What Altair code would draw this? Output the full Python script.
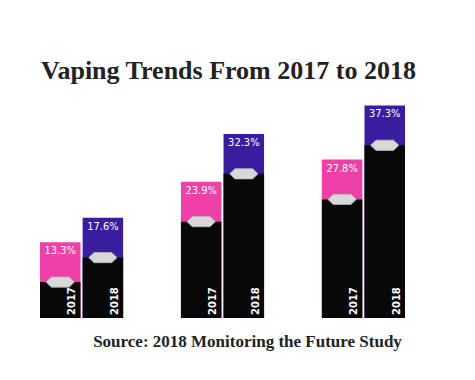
import altair as alt
import pandas as pd

grades = ["8th grade", "10th grade", "12th grade"]
years = ["2017", "2018"]
values_2017 = [13.3, 23.9, 27.8]
values_2018 = [17.6, 32.3, 37.3]

rows = []
for i, g in enumerate(grades):
    rows.append({"grade": g, "year": "2017", "value": values_2017[i]})
    rows.append({"grade": g, "year": "2018", "value": values_2018[i]})
df = pd.DataFrame(rows)

CAP = 7  # height of the coloured cap, in percentage points

x_enc = alt.X("grade:N", sort=grades,
              scale=alt.Scale(paddingInner=0.41, paddingOuter=0),
              axis=alt.Axis(labels=False, ticks=False, domain=False,
                            title="Source: 2018 Monitoring the Future Study",
                            titleFont="Liberation Serif", titleFontSize=17,
                            titleFontWeight="bold", titleColor="#222222",
                            titleBaseline="alphabetic", titleY=28, titleX=207,
                            titleAlign="center"))
xo_enc = alt.XOffset("year:N", sort=years,
                     scale=alt.Scale(paddingInner=0.05, paddingOuter=0))
y_scale = alt.Scale(domain=[0, 40])

base = alt.Chart(df).transform_calculate(
    capbase=f"datum.value - {CAP}",
    label="format(datum.value, '.1f') + '%'"
)

cap = base.mark_bar().encode(
    x=x_enc, xOffset=xo_enc,
    y=alt.Y("value:Q", scale=y_scale, axis=None),
    color=alt.Color("year:N", scale=alt.Scale(domain=years, range=["#ee40a6", "#3a1c9e"]), legend=None),
)

black = base.mark_bar(color="#080808").encode(
    x=x_enc, xOffset=xo_enc,
    y=alt.Y("capbase:Q", scale=y_scale, axis=None),
)

hexagon = "M -1 0 L -0.62 -0.36 L 0.62 -0.36 L 1 0 L 0.62 0.36 L -0.62 0.36 Z"
hexes = base.mark_point(shape=hexagon, size=800, filled=True, fill="#d8d8d8",
                        stroke="#b8b8b8", strokeWidth=0.8, opacity=1).encode(
    x=x_enc, xOffset=xo_enc,
    y=alt.Y("capbase:Q", scale=y_scale, axis=None),
)

pct = base.mark_text(color="white", font="DejaVu Sans Condensed", fontSize=11,
                     baseline="top", align="center", dy=3).encode(
    x=x_enc, xOffset=xo_enc,
    y=alt.Y("value:Q", scale=y_scale, axis=None),
    text="label:N",
)

yr = base.mark_text(color="white", font="DejaVu Sans", fontWeight="bold", fontSize=10,
                    angle=270, align="left", baseline="middle", dx=3, dy=12).encode(
    x=x_enc, xOffset=xo_enc,
    y=alt.YDatum(0),
    text="year:N",
)

chart = alt.layer(cap, black, hexes, pct, yr).properties(
    width=365, height=228,
    autosize="none",
    background="white",
    padding={"left": 32, "top": 82, "right": 62, "bottom": 54},
    title=alt.TitleParams("Vaping Trends From 2017 to 2018", font="Liberation Serif",
                          fontSize=26, fontWeight="bold", color="#222222",
                          offset=6, dx=6),
).configure_view(stroke=None)

chart.save("out.html", embed_options={"renderer": "svg", "actions": False})
